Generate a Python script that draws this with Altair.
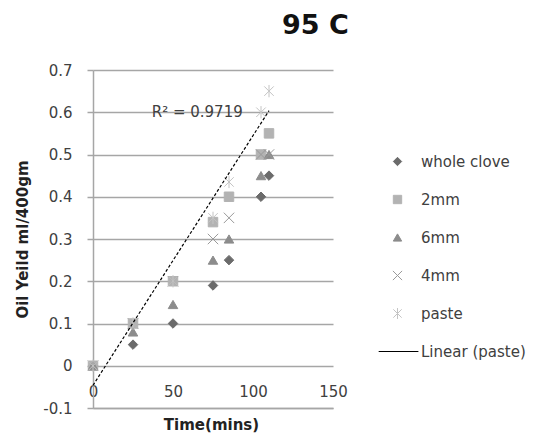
import altair as alt
import pandas as pd

# ---- data ----
times = [0, 25, 50, 75, 85, 105, 110]
whole_clove = [0, 0.05, 0.10, 0.19, 0.25, 0.40, 0.45]
mm2 = [0, 0.10, 0.20, 0.34, 0.40, 0.50, 0.55]
mm6 = [0, 0.08, 0.145, 0.25, 0.30, 0.45, 0.50]
mm4 = [0, 0.10, 0.20, 0.30, 0.35, 0.50, 0.50]
paste = [0, 0.10, 0.20, 0.35, 0.435, 0.60, 0.65]
series_names = ["whole clove", "2mm", "6mm", "4mm", "paste"]
trend_label = "Linear (paste)"
r2_text = ["R\u00b2 = 0.9719"]
r2_x = [36.7]
r2_y = [0.6]
x_ticks = [0, 50, 100, 150]
y_ticks = [-0.1, 0, 0.1, 0.2, 0.3, 0.4, 0.5, 0.6, 0.7]

series_values = [whole_clove, mm2, mm6, mm4, paste]
rows = []
for name, vals in zip(series_names, series_values):
    for t, v in zip(times, vals):
        rows.append({"time": t, "yield": v, "series": name})
df = pd.DataFrame(rows)

FONT = "DejaVu Sans"
GRID = "#a6a6a6"
TXT = "#404040"

domain = series_names + [trend_label]
fills = ["#6b6b6b", "#b3b3b3", "#8c8c8c", "#9a9a9a", "#c4c4c4", "#000000"]
x_path = "M-1.1,-1.1L1.1,1.1M-1.1,1.1L1.1,-1.1"
star_path = "M-1,-1L1,1M-1,1L1,-1M0,-1.3L0,1.3"
line_path = "M-4.5,0L5.0,0"
shapes = ["diamond", "square", "triangle-up", x_path, star_path, line_path]

legend = alt.Legend(
    title=None, orient="none", legendX=297, legendY=84,
    labelFont=FONT, labelFontSize=15, labelColor=TXT,
    symbolSize=70, symbolStrokeWidth=1, rowPadding=22, labelOffset=16,
    padding=0,
)

xscale = alt.Scale(domain=[0, 150], nice=False, zero=False)
yscale = alt.Scale(domain=[-0.1, 0.7], nice=False, zero=False)

xaxis = alt.Axis(
    values=x_ticks, grid=False, ticks=False, tickSize=0, labelFlush=False,
    labelPadding=-17, labelBaseline="middle", labelFont=FONT, labelFontSize=15,
    labelColor=TXT, domainColor=GRID, domainWidth=1.5,
    title="Time(mins)", titleFont=FONT, titleFontSize=15, titleFontWeight="bold",
    titleColor="#222222", titleX=118, titleY=16, titleBaseline="middle",
)
yaxis = alt.Axis(
    values=y_ticks, grid=True, gridColor=GRID, gridWidth=1.5,
    ticks=True, tickSize=6, tickColor=GRID, tickWidth=1.5,
    domainColor=GRID, domainWidth=1.5, labelFlush=False,
    labelPadding=15, labelFont=FONT, labelFontSize=15, labelColor=TXT,
    labelExpr="datum.value == 0 ? '0' : (datum.value < 0 ? '-' : '') + format(abs(datum.value), '.1f')",
    title="Oil Yeild ml/400gm", titleFont=FONT, titleFontSize=15, titleFontWeight="bold",
    titleColor="#222222", titleX=-71, titleY=169, titleBaseline="middle", titleAngle=270,
)

points = alt.Chart(df).mark_point(filled=False, size=90, strokeWidth=1, opacity=1).encode(
    x=alt.X("time:Q", scale=xscale, axis=xaxis),
    y=alt.Y("yield:Q", scale=yscale, axis=yaxis),
    fill=alt.Fill("series:N", scale=alt.Scale(domain=domain, range=fills), legend=legend),
    stroke=alt.Stroke("series:N", scale=alt.Scale(domain=domain, range=fills), legend=legend),
    shape=alt.Shape("series:N", scale=alt.Scale(domain=domain, range=shapes), legend=legend),
)

trend = (
    alt.Chart(df)
    .transform_filter(alt.datum.series == "paste")
    .transform_regression("time", "yield")
    .mark_line(color="black", strokeDash=[3, 2], strokeWidth=1.2)
    .encode(x=alt.X("time:Q", scale=xscale), y=alt.Y("yield:Q", scale=yscale))
)

r2 = (
    alt.Chart(pd.DataFrame({"x": r2_x, "y": r2_y, "t": r2_text}))
    .mark_text(align="left", baseline="middle", font=FONT, fontSize=15, color=TXT)
    .encode(x=alt.X("x:Q", scale=xscale), y=alt.Y("y:Q", scale=yscale), text="t:N")
)

chart = (
    alt.layer(points, trend, r2)
    .properties(
        width=240, height=338,
        title=alt.Title("95 C", anchor="start", frame="group", dx=189, fontSize=27,
                        fontWeight="bold", font=FONT, color="#111111", offset=23),
        autosize=alt.AutoSizeParams(type="none"),
        padding={"left": 85, "top": 62, "right": 203, "bottom": 27},
    )
    .configure_view(strokeWidth=0)
)

chart.save("out.html", embed_options={"renderer": "svg", "actions": False})
